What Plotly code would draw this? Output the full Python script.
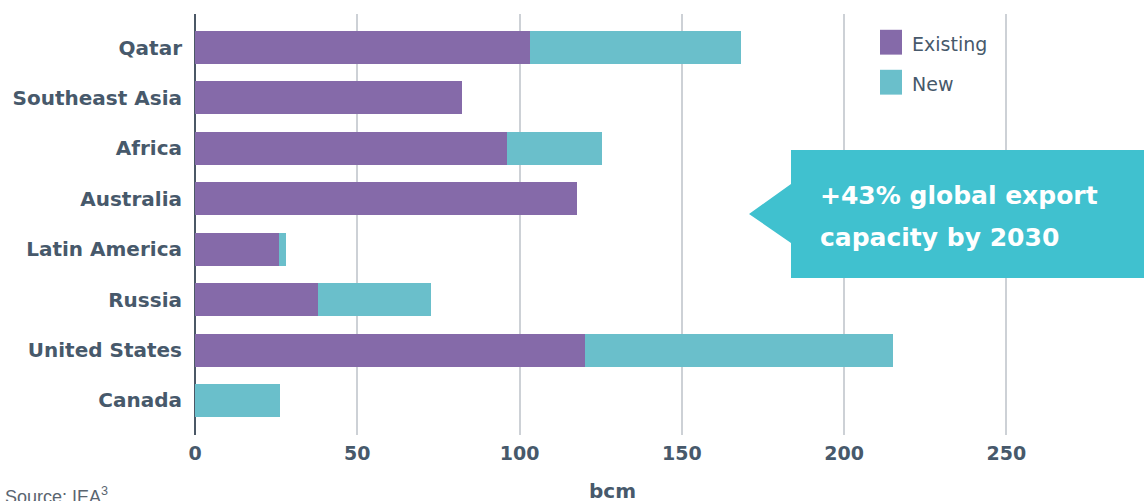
import plotly.graph_objects as go

regions = ["Qatar", "Southeast Asia", "Africa", "Australia", "Latin America",
           "Russia", "United States", "Canada"]
existing = [103.2, 82.3, 96.1, 117.7, 25.9, 37.9, 120.2, 0]
new = [65.0, 0, 29.3, 0, 2.1, 34.8, 94.8, 26.2]
x_ticks = [0, 50, 100, 150, 200, 250]
series_names = ["Existing", "New"]
colors = ["#856aa9", "#6abfcb"]
callout_lines = ["+43% global export", "capacity by 2030"]
x_title = "bcm"
source = "Source: IEA<sup>3</sup>"

TXT = "#47596b"
FONT = "DejaVu Sans"

fig = go.Figure()
fig.add_trace(go.Bar(y=regions, x=existing, orientation="h", name=series_names[0],
                     marker=dict(color=colors[0], line=dict(width=0)), showlegend=False))
fig.add_trace(go.Bar(y=regions, x=new, orientation="h", name=series_names[1],
                     marker=dict(color=colors[1], line=dict(width=0)), showlegend=False))

fig.update_layout(
    width=1144, height=501,
    margin=dict(l=195, r=0, t=14, b=66),
    barmode="stack", bargap=0.345,
    plot_bgcolor="white", paper_bgcolor="white",
    font=dict(family=FONT, color=TXT, size=20),
)
fig.update_xaxes(
    range=[0, 292.4], tickvals=x_ticks, showgrid=True, gridcolor="#cdd1d6", gridwidth=2,
    zeroline=True, zerolinecolor="#4b5866", zerolinewidth=2, showline=False,
    tickfont=dict(family=FONT, size=19, color=TXT, weight=700), ticks="",
    ticklabelstandoff=5, fixedrange=True,
)
fig.update_yaxes(
    categoryorder="array", categoryarray=regions[::-1], range=[-0.685, 7.665],
    showgrid=False, showline=False, ticks="",
    tickfont=dict(family=FONT, size=20, color=TXT, weight=700),
    ticklabelstandoff=12,
)

# axis title and source
fig.add_annotation(text=x_title, xref="x", yref="paper", x=128.5, y=-0.132,
                   yanchor="middle", showarrow=False,
                   font=dict(family=FONT, size=20, color=TXT, weight=700))
fig.add_annotation(text=source, xref="paper", yref="paper",
                   x=-192/949, y=-0.143, xanchor="left", yanchor="middle", showarrow=False,
                   font=dict(family="Liberation Sans", size=18, color="#5a6570"))

# custom legend
for i, (nm, c) in enumerate(zip(series_names, colors)):
    y0 = 0.9625 - i * 0.095
    fig.add_shape(type="rect", xref="paper", yref="paper",
                  x0=(880 - 195) / 949, x1=(902 - 195) / 949, y0=y0 - 0.059, y1=y0,
                  fillcolor=c, line=dict(width=0))
    fig.add_annotation(text=nm, xref="paper", yref="paper",
                       x=(910 - 195) / 949, y=y0 - 0.033, xanchor="left", yanchor="middle",
                       showarrow=False, font=dict(family=FONT, size=19, color=TXT))

# callout box
def py(p):
    return (435 - p) / 421

def px(p):
    return (p - 195) / 949

path = (f"M {px(791)},{py(150)} L {px(1144)},{py(150)} L {px(1144)},{py(278)} "
        f"L {px(791)},{py(278)} L {px(791)},{py(243)} L {px(749)},{py(214)} "
        f"L {px(791)},{py(184)} Z")
fig.add_shape(type="path", xref="paper", yref="paper", path=path,
              fillcolor="#40c1cf", line=dict(width=0))
for line, yc in zip(callout_lines, [195, 237]):
    fig.add_annotation(text=line, xref="paper", yref="paper",
                       x=px(818), y=py(yc), xanchor="left", yanchor="middle", align="left",
                       showarrow=False,
                       font=dict(family=FONT, size=25, color="white", weight=700))

fig.write_html("out.html")
